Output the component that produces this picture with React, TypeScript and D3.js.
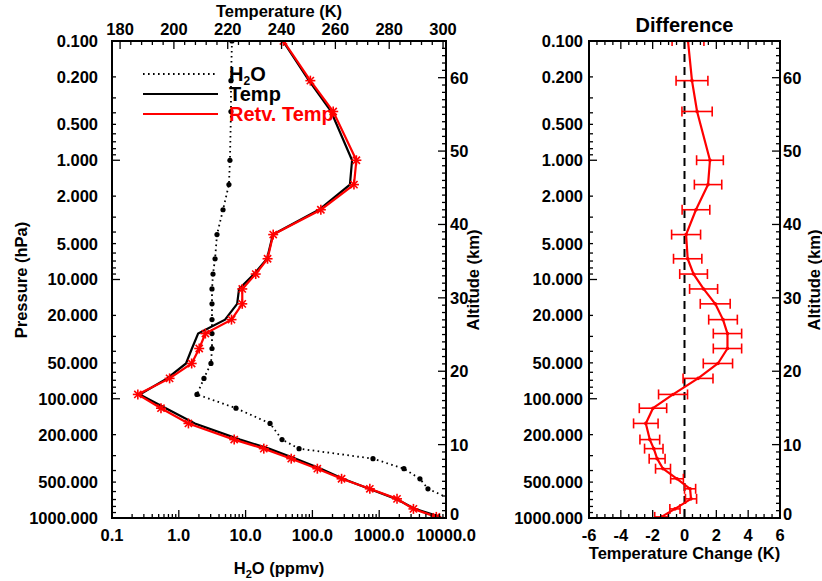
import React from 'react';
import * as d3 from 'd3';

// ---------- data ----------
const pressureLevels = [0.1, 0.215, 0.39, 1.0, 1.6, 2.6, 4.2, 6.7, 9.0, 12, 16, 21.7, 28.4, 37.9, 50.6, 67.5, 92, 120, 161, 220, 262, 318, 386, 469, 569, 691, 839, 979];
const tempTrue = [240.5, 250.2, 258.4, 266.2, 265.4, 253.9, 236.8, 234.6, 229.8, 224.2, 223.5, 219.0, 209.0, 206.7, 204.5, 197.5, 187.3, 197.0, 207.8, 224.6, 235.3, 245.3, 254.6, 262.8, 272.5, 282.5, 289.6, 298.9];
const tempRetv = [240.7, 250.7, 259.2, 267.8, 266.9, 254.6, 236.9, 234.8, 230.4, 225.4, 225.4, 221.4, 211.7, 209.4, 206.6, 198.4, 186.6, 195.2, 205.4, 222.4, 233.4, 243.6, 253.3, 262.3, 272.8, 282.9, 289.0, 297.5];
const h2o = [6.25, 6.04, 6.04, 5.83, 5.63, 4.59, 3.73, 3.49, 3.25, 3.14, 3.14, 3.14, 3.14, 3.14, 3.03, 2.38, 1.87, 7.18, 23.2, 35.1, 63.1, 807, 2345, 4070, 5370, 11500, 16000, 20000];
const diff = [0.22, 0.47, 0.79, 1.6, 1.48, 0.72, 0.1, 0.2, 0.57, 1.2, 1.93, 2.42, 2.7, 2.7, 2.1, 0.85, -0.72, -1.98, -2.43, -2.18, -1.93, -1.72, -1.35, -0.47, 0.35, 0.41, -0.6, -1.45];
const diffErr = [1.0, 1.0, 0.95, 0.84, 0.86, 0.87, 0.91, 0.89, 0.87, 0.88, 0.94, 0.9, 0.89, 0.89, 0.92, 0.94, 0.91, 0.86, 0.77, 0.62, 0.58, 0.5, 0.47, 0.4, 0.35, 0.35, 0.32, 0.42];

const pressureTicks = [0.1, 0.2, 0.5, 1, 2, 5, 10, 20, 50, 100, 200, 500, 1000];
const pressureTickLabels = ['0.100', '0.200', '0.500', '1.000', '2.000', '5.000', '10.000', '20.000', '50.000', '100.000', '200.000', '500.000', '1000.000'];
const h2oTicks = [0.1, 1, 10, 100, 1000, 10000];
const h2oTickLabels = ['0.1', '1.0', '10.0', '100.0', '1000.0', '10000.0'];
const tempTicks = [180, 200, 220, 240, 260, 280, 300];
const altTicks = [0, 10, 20, 30, 40, 50, 60];
const diffTicks = [-6, -4, -2, 0, 2, 4, 6];

// ---------- layout ----------
const W = 822, H = 581;
const top = 41, bottom = 518;
const L = { x0: 112, x1: 446 };
const R = { x0: 589, x1: 780 };
const FONT = "'Liberation Sans', Arial, Helvetica, sans-serif";

const yP = d3.scaleLog().domain([0.1, 1000]).range([top, bottom]);
const yAlt = d3.scaleLinear().domain([0, 65]).range([bottom, top]);
const xH2O = d3.scaleLog().domain([0.1, 10000]).range([L.x0, L.x1]);
const xT = d3.scaleLinear().domain([177, 301.1]).range([L.x0, L.x1]);
const xD = d3.scaleLinear().domain([-6, 6]).range([R.x0, R.x1]);

function minorLog(lo: number, hi: number) {
  const out: number[] = [];
  for (let d = lo; d < hi; d *= 10) for (let k = 2; k <= 9; k++) out.push(d * k);
  return out;
}

const Asterisk = ({ x, y }: { x: number; y: number }) => {
  const r = 5, q = 3.6;
  return (
    <g stroke="#ff0000" strokeWidth={1.6}>
      <line x1={x - r} y1={y} x2={x + r} y2={y} />
      <line x1={x} y1={y - r} x2={x} y2={y + r} />
      <line x1={x - q} y1={y - q} x2={x + q} y2={y + q} />
      <line x1={x - q} y1={y + q} x2={x + q} y2={y - q} />
    </g>
  );
};

export default function App() {
  const idx = d3.range(pressureLevels.length);
  const tLine = (vals: number[]) =>
    d3.line<number>().x(i => xT(vals[i])).y(i => yP(pressureLevels[i]))(idx) || '';
  const h2oLine = d3.line<number>().x(i => xH2O(h2o[i])).y(i => yP(pressureLevels[i]))(idx) || '';
  const dLine = d3.line<number>().x(i => xD(diff[i])).y(i => yP(pressureLevels[i]))(idx) || '';

  const pMinor = minorLog(0.1, 1000);
  const hMinor = minorLog(0.1, 10000);
  const tMinorAll = d3.range(176, 302, 4).filter(v => v >= 177.1 && v <= 301 && (v - 180) % 20 !== 0);
  const altMinor = d3.range(0, 66, 1).filter(v => v % 10 !== 0);
  const dMinor = d3.range(-6, 6.001, 0.5).filter(v => Math.abs(v % 2) > 1e-6);
  const altLabelY = (v: number) => Math.min(yAlt(v), bottom - 4);

  const txt = { fontFamily: FONT, fontWeight: 700, fontSize: 16.5 } as const;

  return (
    <svg width={W} height={H} style={{ position: 'absolute', left: 0, top: 0, background: '#fff' }}>
      <defs>
        <clipPath id="clipL"><rect x={L.x0} y={top} width={L.x1 - L.x0} height={bottom - top} /></clipPath>
        <clipPath id="clipR"><rect x={R.x0} y={top} width={R.x1 - R.x0} height={bottom - top} /></clipPath>
      </defs>
      <rect width={W} height={H} fill="#fff" />

      {/* ---------- LEFT PANEL ---------- */}
      <g clipPath="url(#clipL)">
        <path d={h2oLine} fill="none" stroke="#000" strokeWidth={1.8} strokeDasharray="1.6,3.4" />
        {idx.map(i => (
          <circle key={'hd' + i} cx={xH2O(h2o[i])} cy={yP(pressureLevels[i])} r={2.6} fill="#000" />
        ))}
        <path d={tLine(tempTrue)} fill="none" stroke="#000" strokeWidth={2.2} />
        <path d={tLine(tempRetv)} fill="none" stroke="#ff0000" strokeWidth={2.2} />
        {idx.map(i => (
          <Asterisk key={'as' + i} x={xT(tempRetv[i])} y={yP(pressureLevels[i])} />
        ))}
      </g>

      {/* left panel ticks */}
      <g stroke="#000" strokeWidth={1.3}>
        {[0.1, 1, 10, 100, 1000].map(v => (
          <line key={'plM' + v} x1={L.x0} x2={L.x0 + 8} y1={yP(v)} y2={yP(v)} />
        ))}
        {pMinor.map(v => (
          <line key={'plm' + v} x1={L.x0} x2={L.x0 + 4} y1={yP(v)} y2={yP(v)} />
        ))}
        {altTicks.map(v => (
          <line key={'alM' + v} x1={L.x1} x2={L.x1 - 8} y1={yAlt(v)} y2={yAlt(v)} />
        ))}
        {altMinor.map(v => (
          <line key={'alm' + v} x1={L.x1} x2={L.x1 - 4} y1={yAlt(v)} y2={yAlt(v)} />
        ))}
        {tempTicks.map(v => (
          <line key={'ttM' + v} x1={xT(v)} x2={xT(v)} y1={top} y2={top + 8} />
        ))}
        {tMinorAll.map(v => (
          <line key={'ttm' + v} x1={xT(v)} x2={xT(v)} y1={top} y2={top + 4} />
        ))}
        {h2oTicks.map(v => (
          <line key={'hbM' + v} x1={xH2O(v)} x2={xH2O(v)} y1={bottom} y2={bottom - 8} />
        ))}
        {hMinor.map(v => (
          <line key={'hbm' + v} x1={xH2O(v)} x2={xH2O(v)} y1={bottom} y2={bottom - 4} />
        ))}
      </g>
      <rect x={L.x0} y={top} width={L.x1 - L.x0} height={bottom - top} fill="none" stroke="#000" strokeWidth={2} />

      {/* left labels */}
      <g {...txt} fill="#000">
        {pressureTicks.map((v, i) => (
          <text key={'pl' + v} x={98} y={yP(v)} dy="0.36em" textAnchor="end">{pressureTickLabels[i]}</text>
        ))}
        {altTicks.map(v => (
          <text key={'al' + v} x={450} y={altLabelY(v)} dy="0.36em" textAnchor="start">{v}</text>
        ))}
        {tempTicks.map(v => (
          <text key={'tl' + v} x={xT(v)} y={35} textAnchor="middle">{v}</text>
        ))}
        {h2oTicks.map((v, i) => (
          <text key={'hl' + v} x={xH2O(v)} y={541} textAnchor="middle">{h2oTickLabels[i]}</text>
        ))}
        <text x={279} y={17} textAnchor="middle">Temperature (K)</text>
        <text x={279} y={574} textAnchor="middle">H<tspan fontSize={11} dy={4}>2</tspan><tspan dy={-4}>O (ppmv)</tspan></text>
        <text transform="translate(27,280) rotate(-90)" textAnchor="middle">Pressure (hPa)</text>
        <text transform="translate(479,280) rotate(-90)" textAnchor="middle">Altitude (km)</text>
      </g>

      {/* legend */}
      <g>
        <line x1={143} x2={218} y1={74} y2={74} stroke="#000" strokeWidth={1.8} strokeDasharray="1.6,3.4" />
        <line x1={143} x2={218} y1={94} y2={94} stroke="#000" strokeWidth={2.2} />
        <line x1={143} x2={218} y1={114} y2={114} stroke="#ff0000" strokeWidth={2.2} />
        <g fontFamily={FONT} fontWeight={700} fontSize={20}>
          <text x={229} y={81} fill="#000">H<tspan fontSize={12} dy={4}>2</tspan><tspan dy={-4}>O</tspan></text>
          <text x={229} y={101} fill="#000">Temp</text>
          <text x={229} y={121} fill="#ff0000">Retv. Temp</text>
        </g>
      </g>

      {/* ---------- RIGHT PANEL ---------- */}
      <g clipPath="url(#clipR)">
        <line x1={xD(0)} x2={xD(0)} y1={top} y2={bottom} stroke="#000" strokeWidth={2} strokeDasharray="8,5" />
        <path d={dLine} fill="none" stroke="#ff0000" strokeWidth={2.2} strokeLinejoin="round" />
        {idx.map(i => {
          const y = yP(pressureLevels[i]);
          const lo = xD(diff[i] - diffErr[i]);
          const hi = xD(diff[i] + diffErr[i]);
          return (
            <g key={'eb' + i} stroke="#ff0000" strokeWidth={1.6}>
              <line x1={lo} x2={hi} y1={y} y2={y} />
              <line x1={lo} x2={lo} y1={y - 5} y2={y + 5} />
              <line x1={hi} x2={hi} y1={y - 5} y2={y + 5} />
              <circle cx={xD(diff[i])} cy={y} r={1.8} fill="#ff0000" stroke="none" />
            </g>
          );
        })}
      </g>
      <g stroke="#000" strokeWidth={1.3}>
        {[0.1, 1, 10, 100, 1000].map(v => (
          <line key={'prM' + v} x1={R.x0} x2={R.x0 + 8} y1={yP(v)} y2={yP(v)} />
        ))}
        {pMinor.map(v => (
          <line key={'prm' + v} x1={R.x0} x2={R.x0 + 4} y1={yP(v)} y2={yP(v)} />
        ))}
        {altTicks.map(v => (
          <line key={'arM' + v} x1={R.x1} x2={R.x1 - 8} y1={yAlt(v)} y2={yAlt(v)} />
        ))}
        {altMinor.map(v => (
          <line key={'arm' + v} x1={R.x1} x2={R.x1 - 4} y1={yAlt(v)} y2={yAlt(v)} />
        ))}
        {diffTicks.map(v => (
          <g key={'dM' + v}>
            <line x1={xD(v)} x2={xD(v)} y1={bottom} y2={bottom - 8} />
            <line x1={xD(v)} x2={xD(v)} y1={top} y2={top + 8} />
          </g>
        ))}
        {dMinor.map(v => (
          <g key={'dm' + v}>
            <line x1={xD(v)} x2={xD(v)} y1={bottom} y2={bottom - 4} />
            <line x1={xD(v)} x2={xD(v)} y1={top} y2={top + 4} />
          </g>
        ))}
      </g>
      <rect x={R.x0} y={top} width={R.x1 - R.x0} height={bottom - top} fill="none" stroke="#000" strokeWidth={2} />
      <g {...txt} fill="#000">
        {pressureTicks.map((v, i) => (
          <text key={'pr' + v} x={583} y={yP(v)} dy="0.36em" textAnchor="end">{pressureTickLabels[i]}</text>
        ))}
        {altTicks.map(v => (
          <text key={'ar' + v} x={783} y={altLabelY(v)} dy="0.36em" textAnchor="start">{v}</text>
        ))}
        {diffTicks.map(v => (
          <text key={'dl' + v} x={xD(v)} y={541} textAnchor="middle">{v}</text>
        ))}
        <text x={684.5} y={559} textAnchor="middle">Temperature Change (K)</text>
        <text x={684.5} y={32} textAnchor="middle" fontSize={20}>Difference</text>
        <text transform="translate(820,280) rotate(-90)" textAnchor="middle">Altitude (km)</text>
      </g>
    </svg>
  );
}
